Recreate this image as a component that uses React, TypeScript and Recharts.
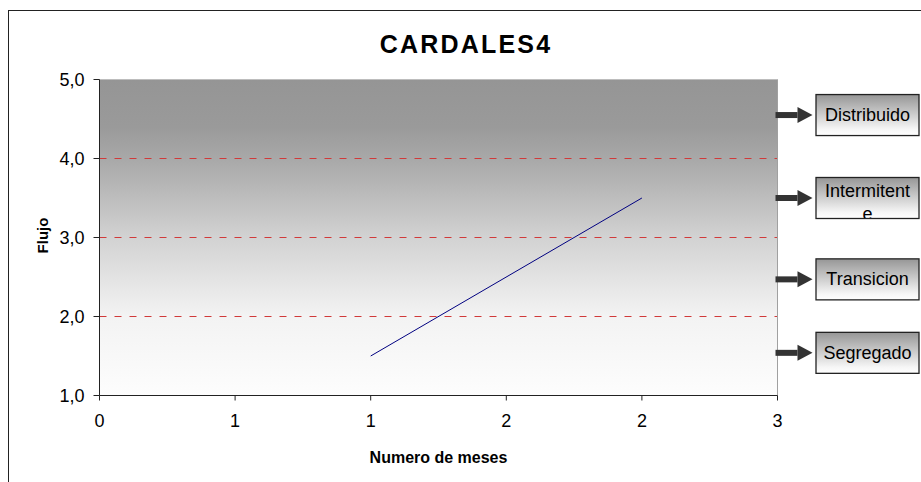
import React from 'react';
import {
  LineChart,
  Line,
  XAxis,
  YAxis,
  CartesianGrid,
  ReferenceLine,
  ReferenceDot,
} from 'recharts';

// months on the x axis and the flow value read for each one
const meses = [1.2, 2.4];
const flujo = [1.5, 3.5];

const xTicks = [0, 0.6, 1.2, 1.8, 2.4, 3];
const yTicks = [1, 2, 3, 4, 5];
const gridLevels = [2, 3, 4];

// regime tags on the right side, at the flow level they point to
const tagNames = ['Distribuido', 'Intermitente', 'Transicion', 'Segregado'];
const tagLevels = [4.55, 3.5, 2.47, 1.54];

const data = meses.map((m, i) => ({ mes: m, flujo: flujo[i] }));

const font = '"Liberation Sans", Arial, sans-serif';

const RegimeTag = (props: any) => {
  const { cx, cy, name, idx } = props;
  const bx = cx + 38.5;
  const by = cy - 20.5;
  // the long name wraps inside its box the way it did in the original sheet
  const lines = name === 'Intermitente' ? ['Intermitent', 'e'] : [name];
  return (
    <g>
      <defs>
        <clipPath id={`tagclip${idx}`}>
          <rect x={bx} y={by} width={103} height={41} />
        </clipPath>
      </defs>
      <rect x={cx - 2} y={cy - 3} width={22} height={6} fill='#333' />
      <polygon
        points={`${cx + 20},${cy - 8} ${cx + 35},${cy} ${cx + 20},${cy + 8}`}
        fill='#333'
      />
      <rect x={bx} y={by} width={103} height={41} fill='url(#tagGrad)' />
      <g clipPath={`url(#tagclip${idx})`}>
        {lines.length === 1 ? (
          <text x={bx + 51.5} y={cy + 6} textAnchor='middle' fontSize={18} fontFamily={font} fill='#000'>
            {lines[0]}
          </text>
        ) : (
          <>
            <text x={bx + 51.5} y={cy - 1.5} textAnchor='middle' fontSize={18} fontFamily={font} fill='#000'>
              {lines[0]}
            </text>
            <text x={bx + 51.5} y={cy + 22} textAnchor='middle' fontSize={18} fontFamily={font} fill='#000'>
              {lines[1]}
            </text>
          </>
        )}
      </g>
      <rect x={bx} y={by} width={103} height={41} fill='none' stroke='#222' strokeWidth={1.3} />
    </g>
  );
};

const App = () => {
  return (
    <div style={{ position: 'absolute', left: 0, top: 0, width: 921, height: 482, overflow: 'hidden', background: '#fff' }}>
      <div
        style={{
          position: 'absolute',
          left: 8,
          top: 10,
          width: 1000,
          height: 1000,
          border: '1px solid #222',
        }}
      />
      <div
        style={{
          position: 'absolute',
          left: 0,
          width: 932,
          top: 32,
          textAlign: 'center',
          fontFamily: font,
          fontWeight: 'bold',
          fontSize: 25,
          lineHeight: '25px',
          letterSpacing: 2.2,
          color: '#000',
        }}
      >
        CARDALES4
      </div>
      <div style={{ position: 'absolute', left: 0, top: 0 }}>
        <LineChart
          width={921}
          height={482}
          data={data}
          margin={{ top: 79.5, right: 143.5, bottom: 16.5, left: 39.5 }}
        >
          <defs>
            <linearGradient id='plotGrad' x1='0' y1='0' x2='0' y2='1'>
              <stop offset='0' stopColor='#959595' />
              <stop offset='0.15' stopColor='#9a9a9a' />
              <stop offset='0.25' stopColor='#a8a8a8' />
              <stop offset='0.5' stopColor='#d2d2d2' />
              <stop offset='0.75' stopColor='#f3f3f3' />
              <stop offset='1' stopColor='#fdfdfd' />
            </linearGradient>
            <linearGradient id='tagGrad' x1='0' y1='0' x2='0' y2='1'>
              <stop offset='0' stopColor='#969696' />
              <stop offset='0.85' stopColor='#f6f6f6' />
              <stop offset='1' stopColor='#ffffff' />
            </linearGradient>
          </defs>
          <CartesianGrid horizontal={false} vertical={false} fill='url(#plotGrad)' fillOpacity={1} />
          {gridLevels.map((v) => (
            <ReferenceLine key={v} y={v} stroke='#d03a3a' strokeDasharray='7 8' />
          ))}
          <ReferenceLine y={5} stroke='#bdbdbd' />
          <ReferenceLine x={3} stroke='#a0a0a0' />
          <XAxis
            dataKey='mes'
            type='number'
            domain={[0, 3]}
            ticks={xTicks}
            tickFormatter={(v) => String(Math.round(v))}
            height={70}
            tickSize={5}
            tickMargin={14}
            stroke='#222'
            tick={{ fill: '#000', fontSize: 18, fontFamily: font }}
            label={{
              value: 'Numero de meses',
              position: 'insideBottom',
              offset: 3,
              fill: '#000',
              fontSize: 16,
              fontWeight: 'bold',
              fontFamily: font,
            }}
          />
          <YAxis
            type='number'
            domain={[1, 5]}
            ticks={yTicks}
            tickFormatter={(v) => v.toFixed(1).replace('.', ',')}
            width={60}
            tickSize={6}
            tickMargin={9}
            stroke='#222'
            tick={{ fill: '#000', fontSize: 18, fontFamily: font }}
            label={{
              value: 'Flujo',
              angle: -90,
              position: 'center',
              dx: -26.5,
              dy: -2,
              fill: '#000',
              fontSize: 15,
              fontWeight: 'bold',
              fontFamily: font,
            }}
          />
          <Line
            dataKey='flujo'
            stroke='#000080'
            strokeWidth={1}
            dot={false}
            isAnimationActive={false}
          />
          {tagNames.map((name, i) => (
            <ReferenceDot
              key={name}
              x={3}
              y={tagLevels[i]}
              ifOverflow='visible'
              shape={(p: any) => <RegimeTag {...p} name={name} idx={i} />}
            />
          ))}
        </LineChart>
      </div>
    </div>
  );
};

export default App;
